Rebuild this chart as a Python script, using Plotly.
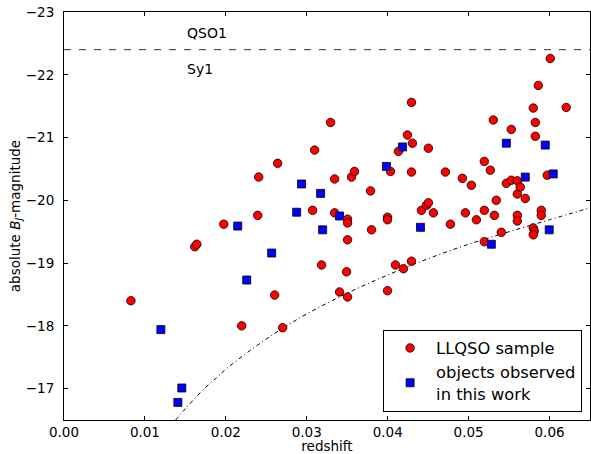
import plotly.graph_objects as go

# LLQSO sample (red circles): redshift, absolute B_J magnitude
llqso_z = [0.00827, 0.01616, 0.01641, 0.01974, 0.02394, 0.02406, 0.0264, 0.02196, 0.02603, 0.02702,
           0.03072, 0.03097, 0.03183, 0.03294, 0.03344, 0.03344, 0.03405, 0.03492, 0.03504, 0.03504,
           0.03504, 0.03504, 0.03553, 0.0359, 0.03788, 0.038, 0.03998, 0.03998, 0.03998, 0.04035,
           0.04096, 0.04133, 0.04195, 0.04244, 0.04294, 0.04294, 0.04294, 0.04306, 0.04417, 0.04479,
           0.04503, 0.04503, 0.04565, 0.04713, 0.04775, 0.04923, 0.0496, 0.05034, 0.05096, 0.05194,
           0.05194, 0.05194, 0.05268, 0.05305, 0.05318, 0.05342, 0.05404, 0.05466, 0.05527, 0.05527,
           0.05602, 0.05602, 0.05602, 0.05602, 0.05638, 0.057, 0.05799, 0.05799, 0.05811, 0.05799,
           0.05824, 0.05824, 0.05861, 0.05898, 0.05898, 0.05972, 0.06009, 0.06206]
llqso_m = [-18.40, -19.26, -19.30, -19.62, -19.76, -20.37, -20.59, -18.00, -18.49, -17.97,
           -19.84, -20.80, -18.97, -21.24, -20.34, -19.80, -18.54, -18.86, -19.70, -19.64,
           -19.37, -18.46, -20.37, -20.46, -20.15, -19.53, -19.73, -19.69, -18.56, -20.46,
           -18.97, -20.78, -18.91, -21.04, -21.56, -20.45, -19.03, -20.91, -19.84, -19.92,
           -19.96, -20.83, -19.80, -20.45, -19.62, -20.35, -19.80, -20.24, -19.69, -20.62,
           -19.84, -19.34, -20.48, -21.28, -19.76, -20.00, -19.49, -20.27, -21.13, -20.32,
           -20.31, -20.10, -19.76, -19.67, -20.21, -20.03, -21.47, -19.56, -19.51, -19.45,
           -21.24, -21.02, -21.83, -19.84, -19.76, -20.40, -22.26, -21.48]

# Objects observed in this work (blue squares)
obs_z = [0.01197, 0.01456, 0.01407, 0.02147, 0.02258, 0.02566, 0.02875, 0.02936, 0.03171, 0.03196,
         0.03405, 0.03985, 0.04183, 0.04405, 0.05281, 0.05466, 0.057, 0.05947, 0.05996, 0.06046]
obs_m = [-17.94, -17.01, -16.78, -19.59, -18.73, -19.16, -19.81, -20.26, -20.11, -19.53,
         -19.75, -20.54, -20.85, -19.57, -19.30, -20.91, -20.37, -20.88, -19.53, -20.42]

# Dash-dot limit curve
limit_z = [0.0138, 0.0145, 0.015, 0.016, 0.0175, 0.019, 0.02, 0.0225, 0.025, 0.0275,
           0.03, 0.035, 0.04, 0.045, 0.05, 0.055, 0.06, 0.065]
limit_m = [-16.50, -16.61, -16.68, -16.82, -17.02, -17.19, -17.31, -17.56, -17.79, -18.00,
           -18.19, -18.52, -18.81, -19.07, -19.30, -19.50, -19.69, -19.88]

qso_boundary = -22.4
label_texts = ["QSO1", "Sy1"]
label_z = [0.0149, 0.0149]
label_m = [-22.67, -22.09]

x_ticks = [0.00, 0.01, 0.02, 0.03, 0.04, 0.05, 0.06]
y_ticks = [-23, -22, -21, -20, -19, -18, -17]

FONT = "DejaVu Sans"

fig = go.Figure()

fig.add_trace(go.Scatter(
    x=limit_z, y=limit_m, mode="lines", showlegend=False, hoverinfo="skip",
    line=dict(color="black", width=1, dash="4px,3px,1px,3px", shape="spline"),
))

fig.add_trace(go.Scatter(
    x=llqso_z, y=llqso_m, mode="markers", name="LLQSO sample",
    marker=dict(symbol="circle", size=8.5, color="#ff0000",
                line=dict(color="black", width=0.8)),
))

fig.add_trace(go.Scatter(
    x=obs_z, y=obs_m, mode="markers", name="objects observed<br>in this work",
    marker=dict(symbol="square", size=8, color="#0000ff",
                line=dict(color="black", width=0.8)),
))

fig.add_hline(y=qso_boundary, line=dict(color="#333333", width=1, dash="7px,8px"))

for t, xx, yy in zip(label_texts, label_z, label_m):
    fig.add_annotation(x=xx, y=yy, text=t, showarrow=False, xanchor="left",
                       yanchor="middle", font=dict(size=14, color="black", family=FONT))

axis_common = dict(
    showline=True, linecolor="black", linewidth=1, mirror="allticks",
    ticks="inside", ticklen=4, tickwidth=1, tickcolor="black",
    showgrid=False, zeroline=False, automargin=False,
    tickfont=dict(size=13.5, color="black", family=FONT),
)

fig.update_xaxes(
    range=[0, 0.065], tickvals=x_ticks, tickformat=".2f",
    title=dict(text="redshift", font=dict(size=13.5, color="black", family=FONT), standoff=6),
    ticklabelstandoff=0,
    **axis_common,
)
fig.update_yaxes(
    range=[-16.5, -23], tickvals=y_ticks,
    title=dict(text="absolute <i>B</i><sub><i>J</i></sub>-magnitude",
               font=dict(size=13.5, color="black", family=FONT), standoff=2),
    ticklabelstandoff=6,
    **axis_common,
)

fig.update_layout(
    width=591, height=454,
    margin=dict(l=64, r=1, t=12, b=34),
    paper_bgcolor="white", plot_bgcolor="white",
    font=dict(family=FONT, color="black"),
    legend=dict(
        x=0.985, y=0.02, xanchor="right", yanchor="bottom",
        bordercolor="black", borderwidth=1, bgcolor="white",
        font=dict(size=16.3, color="black", family=FONT),
        itemwidth=42, indentation=0,
    ),
)

fig.write_html("out.html")
